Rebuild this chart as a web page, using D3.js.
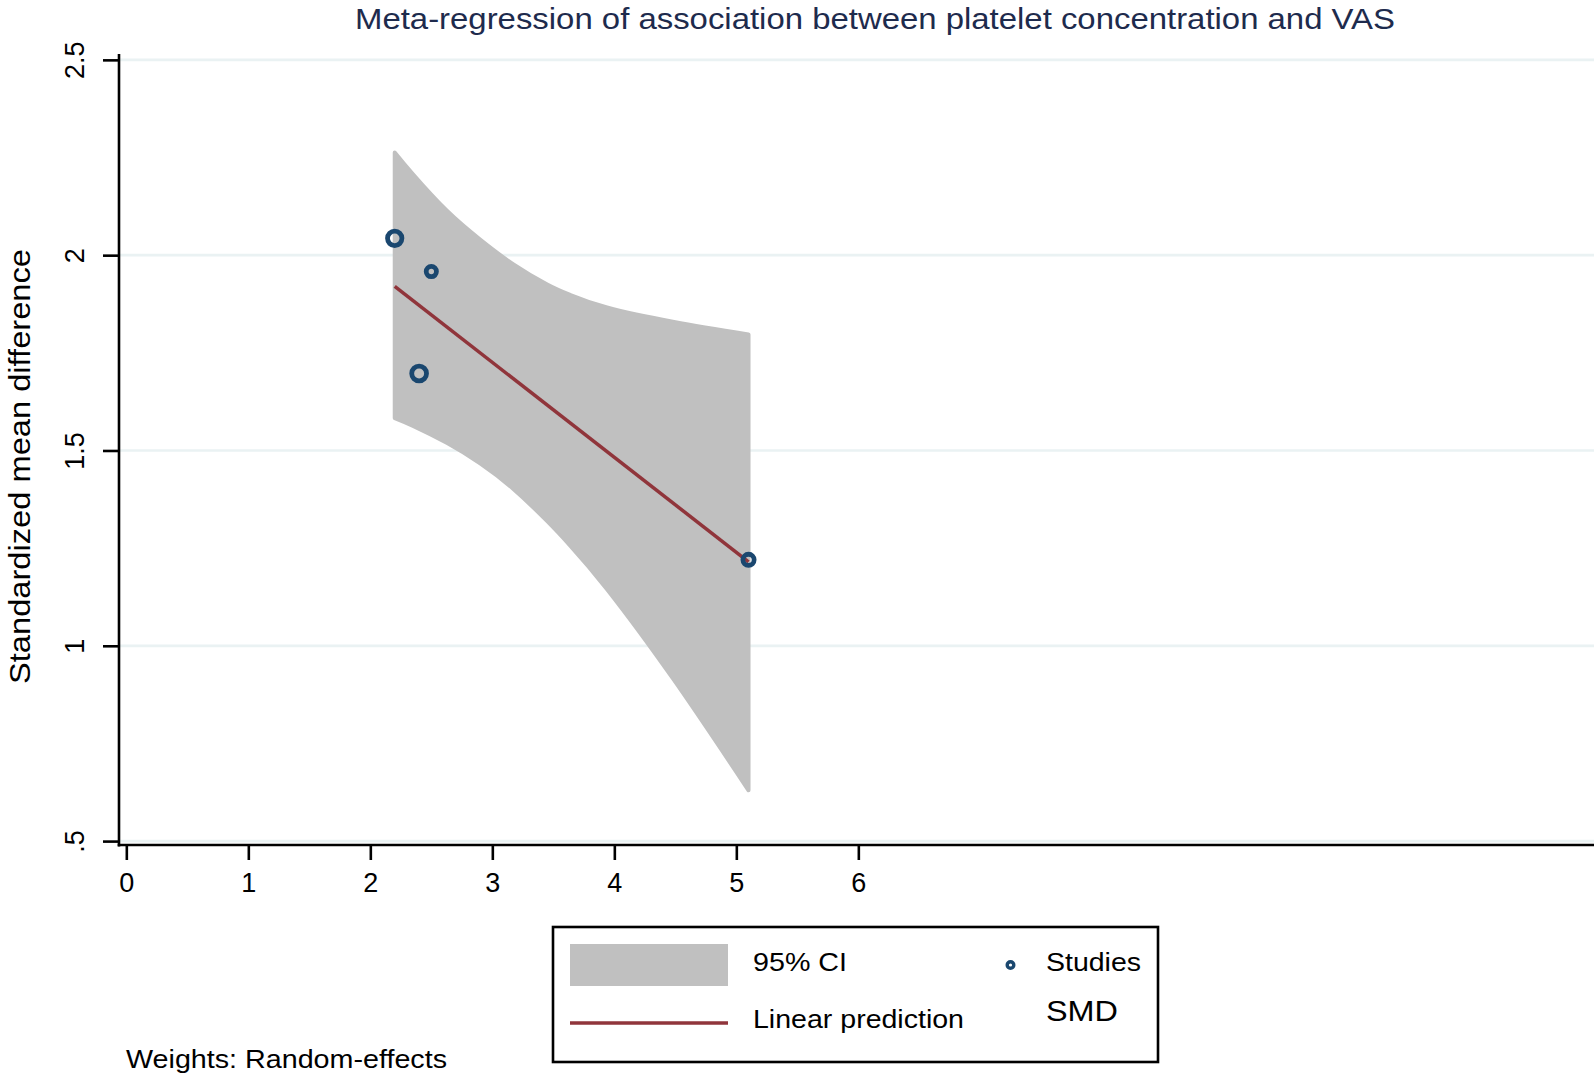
<!DOCTYPE html>
<html>
<head>
<meta charset="utf-8">
<script src="https://cdn.jsdelivr.net/npm/d3@7/dist/d3.min.js"></script>
<style>
  html, body { margin: 0; padding: 0; background: #fff; }
  svg { display: block; }
  text { font-family: "Liberation Sans", Arial, Helvetica, sans-serif; }
</style>
</head>
<body>
<svg id="chart" width="1594" height="1079"></svg>
<script>
// ---- data ----
const title = "Meta-regression of association between platelet concentration and VAS";
const yTitle = "Standardized mean difference";
const note = "Weights: Random-effects";

const studyX = [2.2, 2.5, 2.4, 5.1];
const studySMD = [2.043, 1.958, 1.697, 1.220];
const studyWeight = [31.6, 15.9, 33.4, 19.1];

const predX = [2.2, 5.1];
const predY = [1.920, 1.215];

const ciX     = [2.2,   2.35,  2.63,  2.9,   3.17,  3.45,  3.64,  3.94,  4.49,  5.1];
const ciUpper = [2.263, 2.207, 2.113, 2.040, 1.977, 1.925, 1.898, 1.866, 1.829, 1.797];
const ciLower = [1.583, 1.563, 1.519, 1.467, 1.402, 1.319, 1.256, 1.145, 0.912, 0.630];

const xTicks = [0, 1, 2, 3, 4, 5, 6];
const yTicks = [0.5, 1, 1.5, 2, 2.5];
const yTickLabels = [".5", "1", "1.5", "2", "2.5"];

const legendItems = ["95% CI", "Linear prediction", "Studies", "SMD"];

// ---- layout ----
const svg = d3.select("#chart");
const x = d3.scaleLinear().domain([-0.06, 12.03]).range([119, 1594]);
const y = d3.scaleLinear().domain([0.49, 2.515]).range([845, 54]);

const navy = "#1a476f", maroon = "#90353b", band = "#c0c0c0", grid = "#eaf2f3";

// gridlines
svg.append("g").selectAll("line").data(yTicks).join("line")
  .attr("x1", x.range()[0]).attr("x2", x.range()[1])
  .attr("y1", d => y(d)).attr("y2", d => y(d))
  .attr("stroke", grid).attr("stroke-width", 2.7);

// CI band
const ciData = ciX.map((d, i) => ({x: d, lo: ciLower[i], hi: ciUpper[i]}));
const area = d3.area().x(d => x(d.x)).y0(d => y(d.lo)).y1(d => y(d.hi)).curve(d3.curveNatural);
svg.append("path").datum(ciData).attr("d", area)
  .attr("fill", band).attr("stroke", band).attr("stroke-width", 4).attr("stroke-linejoin", "round");

// prediction line
svg.append("path").datum(predX.map((d, i) => [d, predY[i]]))
  .attr("d", d3.line().x(d => x(d[0])).y(d => y(d[1])))
  .attr("fill", "none").attr("stroke", maroon).attr("stroke-width", 3.5);

// study markers
const r = d3.scaleSqrt().domain([0, d3.max(studyWeight)]).range([0, 7.4]);
svg.append("g").selectAll("circle").data(studyX).join("circle")
  .attr("cx", d => x(d)).attr("cy", (d, i) => y(studySMD[i]))
  .attr("r", (d, i) => r(studyWeight[i]))
  .attr("fill", "none").attr("stroke", navy).attr("stroke-width", 4.8);

// axes
const yAxis = d3.axisLeft(y).tickValues(yTicks).tickFormat((d, i) => yTickLabels[i]).tickSize(16).tickPadding(0);
const gy = svg.append("g").attr("transform", "translate(119,0)").call(yAxis);
gy.select(".domain").attr("d", `M0,${y.range()[1]}V${y.range()[0] + 1.5}`).attr("stroke", "#000").attr("stroke-width", 2.6);
gy.selectAll(".tick line").attr("stroke", "#000").attr("stroke-width", 2.6);
gy.selectAll(".tick text")
  .attr("x", 0).attr("y", 0).attr("dy", null)
  .attr("transform", "translate(-35,0) rotate(-90)")
  .attr("text-anchor", "middle").attr("fill", "#000")
  .style("font-size", "27px").style("font-family", "'Liberation Sans', Arial, sans-serif");

const xAxis = d3.axisBottom(x).tickValues(xTicks).tickFormat(d3.format("d")).tickSize(15).tickPadding(0);
const gx = svg.append("g").attr("transform", "translate(0,845)").call(xAxis);
gx.select(".domain").attr("d", `M${x.range()[0] - 1.3},0H${x.range()[1]}`).attr("stroke", "#000").attr("stroke-width", 2.6);
gx.selectAll(".tick line").attr("stroke", "#000").attr("stroke-width", 2.6);
gx.selectAll(".tick text")
  .attr("y", 47).attr("dy", null).attr("fill", "#000")
  .style("font-size", "27px").style("font-family", "'Liberation Sans', Arial, sans-serif");

// title
svg.append("text").attr("x", 355).attr("y", 29).attr("fill", "#1e2b4d")
  .attr("textLength", 1040).attr("lengthAdjust", "spacingAndGlyphs")
  .style("font-size", "29px").text(title);

// y title
svg.append("text").attr("transform", `translate(30,${(249 + 684) / 2}) rotate(-90)`)
  .attr("text-anchor", "middle").attr("fill", "#000")
  .attr("textLength", 435).attr("lengthAdjust", "spacingAndGlyphs")
  .style("font-size", "29px").text(yTitle);

// note
svg.append("text").attr("x", 126).attr("y", 1068).attr("fill", "#000")
  .attr("textLength", 321).attr("lengthAdjust", "spacingAndGlyphs")
  .style("font-size", "25px").text(note);

// legend
const lg = svg.append("g");
lg.append("rect").attr("x", 553).attr("y", 927).attr("width", 605).attr("height", 135)
  .attr("fill", "#fff").attr("stroke", "#000").attr("stroke-width", 2.6);
lg.append("rect").attr("x", 570).attr("y", 944).attr("width", 158).attr("height", 42).attr("fill", band);
lg.append("line").attr("x1", 570).attr("x2", 728).attr("y1", 1023).attr("y2", 1023)
  .attr("stroke", maroon).attr("stroke-width", 3.5);
lg.append("circle").attr("cx", 1010.5).attr("cy", 965).attr("r", 3.3)
  .attr("fill", "none").attr("stroke", navy).attr("stroke-width", 3.4);
const legTexts = [
  {t: legendItems[0], x: 753, y: 971, w: 94, fs: 25},
  {t: legendItems[1], x: 753, y: 1028, w: 211, fs: 25},
  {t: legendItems[2], x: 1046, y: 971, w: 95, fs: 25},
  {t: legendItems[3], x: 1046, y: 1021, w: 72, fs: 29}
];
lg.selectAll("text.leg").data(legTexts).join("text").attr("class", "leg")
  .attr("x", d => d.x).attr("y", d => d.y).attr("fill", "#000")
  .attr("textLength", d => d.w).attr("lengthAdjust", "spacingAndGlyphs")
  .style("font-size", d => d.fs + "px").text(d => d.t);
</script>
</body>
</html>
